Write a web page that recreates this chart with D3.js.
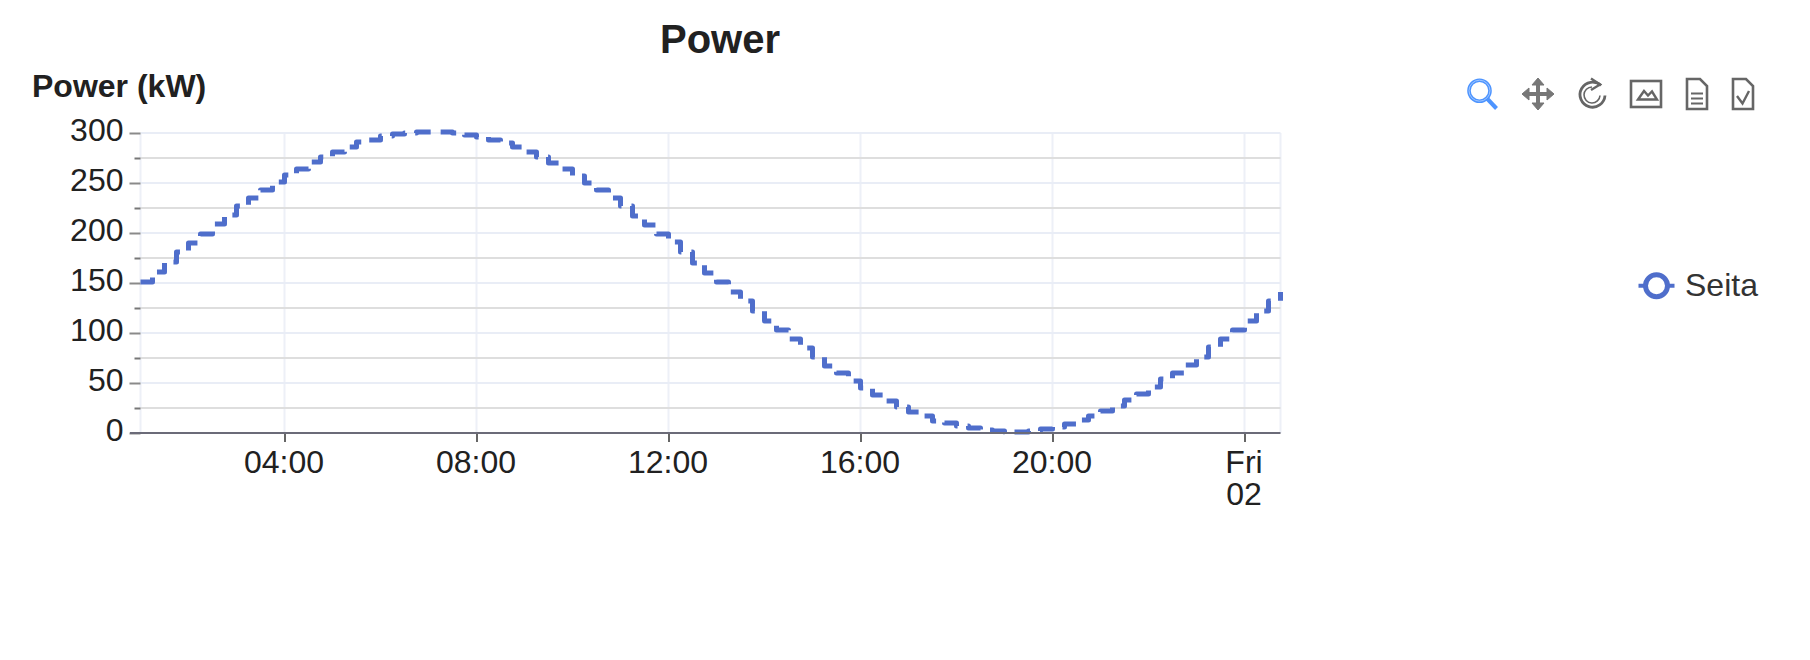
<!DOCTYPE html>
<html>
<head>
<meta charset="utf-8">
<style>
html,body{margin:0;padding:0;background:#fff;}
svg{display:block;font-family:"Liberation Sans",Arial,sans-serif;}
</style>
<script src="https://cdn.jsdelivr.net/npm/d3@7"></script>
</head>
<body>
<svg id="chart" width="1810" height="660"></svg>
<script>
const chartTitle = "Power";
const yAxisTitle = "Power (kW)";
const seriesName = "Seita";
const startTime = "2024-02-01T01:00:00Z";
const stepMinutes = 15;
const powerKw = [
 151,161,171,181,190,199,209,218,227,235,243,251,258,264,271,276,281,286,291,293,297,299,300,301,
 301,301,300,298,296,293,290,286,281,276,270,264,257,250,243,235,227,217,208,199,191,181,170,160,
 151,141,132,122,112,103,94,85,76,67,60,52,45,38,32,26,21,17,12,10,7,5,3,2,
 1,1,2,4,6,9,13,17,22,27,33,39,46,54,60,68,76,86,94,103,112,122,132,141
];
const yMajorTicks = [0,50,100,150,200,250,300];
const yMinorTicks = [25,75,125,175,225,275];

const margin = {left:140.5, right:1280.5, top:133, bottom:433};
const t0 = d3.isoParse(startTime);
const times = powerKw.map((_,i)=>d3.utcMinute.offset(t0,i*stepMinutes));
const xTicks = d3.range(4,25,4).map(h=>d3.utcHour.offset(d3.utcDay.floor(t0),h));

const x = d3.scaleUtc().domain([times[0],times[times.length-1]]).range([margin.left,margin.right]);
const y = d3.scaleLinear().domain([0,300]).range([margin.bottom,margin.top]);
const svg = d3.select("#chart");

const textCol="#212121", lineCol="#4f6ecb";

// grid
const grid = svg.append("g").attr("fill","none").attr("stroke-width",2);
grid.selectAll(".v").data([times[0],...xTicks,times[times.length-1]]).join("line")
  .attr("x1",d=>x(d)).attr("x2",d=>x(d)).attr("y1",margin.top).attr("y2",margin.bottom).attr("stroke","#edf0f7");
grid.selectAll(".maj").data(yMajorTicks).join("line").attr("class","maj")
  .attr("x1",margin.left).attr("x2",margin.right).attr("y1",d=>y(d)).attr("y2",d=>y(d)).attr("stroke","#e9edf6");
grid.selectAll(".min").data(yMinorTicks).join("line").attr("class","min")
  .attr("x1",margin.left).attr("x2",margin.right).attr("y1",d=>y(d)).attr("y2",d=>y(d)).attr("stroke","#dedede");

// y axis
const yAxis = svg.append("g").attr("transform",`translate(${margin.left},0)`)
  .call(d3.axisLeft(y).tickValues(yMajorTicks).tickSize(11).tickPadding(6).tickFormat(d3.format("d")));
yAxis.select(".domain").remove();
yAxis.selectAll("line").attr("stroke","#8a8a8a").attr("stroke-width",2);
yAxis.selectAll("text").attr("font-size",32).attr("fill",textCol).attr("font-family",'"Liberation Sans"').attr("dy","0.24em");
const yMinor = svg.append("g").attr("transform",`translate(${margin.left},0)`)
  .call(d3.axisLeft(y).tickValues(yMinorTicks).tickSize(6).tickFormat(""));
yMinor.select(".domain").remove();
yMinor.selectAll("line").attr("stroke","#777").attr("stroke-width",2);

// line
const line = d3.line().x((d,i)=>x(times[i])).y(d=>y(d)).curve(d3.curveStepAfter);
svg.append("path").datum(powerKw).attr("d",line).attr("fill","none")
  .attr("stroke",lineCol).attr("stroke-width",5).attr("stroke-dasharray","16.5 9.98").attr("stroke-linejoin","round");

// x axis
const xAxis = svg.append("g").attr("transform",`translate(0,${margin.bottom})`)
  .call(d3.axisBottom(x).tickValues(xTicks).tickSize(9).tickFormat(""));
xAxis.select(".domain").remove();
xAxis.selectAll("line").attr("stroke","#666").attr("stroke-width",2);
xAxis.selectAll("g.tick").each(function(d){
  const midnight=d.getUTCHours()===0;
  const lines= midnight ? [d3.utcFormat("%a")(d),d3.utcFormat("%d")(d)] : [d3.utcFormat("%H:%M")(d)];
  const t=d3.select(this).append("text").attr("y",40).attr("dy",0).attr("fill",textCol).attr("font-size",32)
     .attr("text-anchor","middle").attr("font-family",'"Liberation Sans"');
  lines.forEach((s,i)=>t.append("tspan").attr("x",-1).attr("dy",i?32:0).text(s));
});
svg.append("line").attr("x1",130).attr("x2",margin.right).attr("y1",margin.bottom).attr("y2",margin.bottom)
  .attr("stroke","#6b6b78").attr("stroke-width",2);

// titles
svg.append("text").attr("x",720).attr("y",53).attr("text-anchor","middle")
  .attr("font-size",40).attr("font-weight","bold").attr("fill",textCol).text(chartTitle);
svg.append("text").attr("x",32).attr("y",97).attr("font-size",32).attr("font-weight","bold").attr("fill",textCol).text(yAxisTitle);

// legend
const lg=svg.append("g").attr("transform","translate(1656.5,285.7)");
lg.append("line").attr("x1",-18).attr("x2",18).attr("stroke",lineCol).attr("stroke-width",4);
lg.append("circle").attr("r",11).attr("fill","#fff").attr("stroke",lineCol).attr("stroke-width",5);
svg.append("text").attr("x",1685).attr("y",295.5).attr("font-size",32).attr("fill","#333").text(seriesName);

// toolbar icons
const ic=svg.append("g").attr("fill","none").attr("stroke","#666").attr("stroke-width",2.6);
const z=ic.append("g").attr("stroke","#4d94ff");
z.append("circle").attr("cx",1479.5).attr("cy",90.7).attr("r",10.5).attr("stroke-width",3.6);
z.append("circle").attr("cx",1479.5).attr("cy",90.7).attr("r",10.5).attr("stroke","#a9ccff").attr("stroke-width",.9);
z.append("path").attr("d","M1487 98.5L1496.5 108.5").attr("stroke-width",4);
const m=ic.append("g").attr("stroke","#777").attr("fill","#777");
m.append("path").attr("d","M1538 80V108M1524 94H1552").attr("stroke-width",4);
m.append("path").attr("stroke-width",1).attr("d","M1538 78L1544 85H1532ZM1538 110L1544 103H1532ZM1522 94L1529 88V100ZM1554 94L1547 88V100Z");
ic.append("path").attr("d","M1601 85.5A12.5 12.5 0 1 0 1605 95.5").attr("stroke-width",2.8);
ic.append("path").attr("d","M1592 87A8 8 0 1 0 1600 95.5").attr("stroke-width",1.6);
ic.append("path").attr("d","M1591 78.5L1600 84.5L1591 90").attr("stroke-width",2.4);
ic.append("rect").attr("x",1631).attr("y",81).attr("width",30).attr("height",26);
ic.append("path").attr("d","M1638 99.5L1644 91L1648 95.5L1652 91.5L1657 99.5Z").attr("stroke-width",2.4);
ic.append("path").attr("d","M1687 79H1700L1707 86V109H1687Z");
ic.append("path").attr("d","M1691 93.5H1703M1691 98.5H1703M1691 103.5H1703").attr("stroke-width",2.2);
ic.append("path").attr("d","M1733 79H1746L1753 86V109H1733Z");
ic.append("path").attr("d","M1737 96L1742.5 103.5L1749 91").attr("stroke-width",2.4);
</script>
</body>
</html>
